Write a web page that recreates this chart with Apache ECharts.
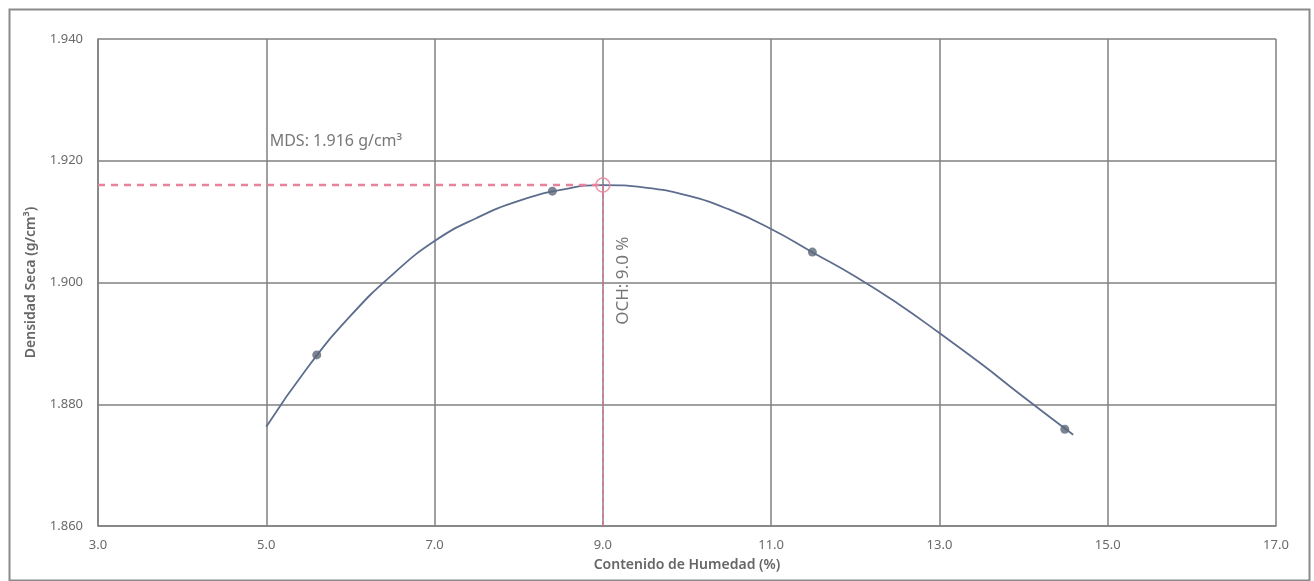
<!DOCTYPE html>
<html>
<head>
<meta charset="utf-8">
<script src="https://cdn.jsdelivr.net/npm/echarts@6/dist/echarts.min.js"></script>
<style>
html,body{margin:0;padding:0;background:#fff;}
#c{width:1314px;height:581px;}
</style>
</head>
<body>
<div id="c"></div>
<script>
// Fitted compaction curve
const curveX = [5.0, 5.5, 6.0, 6.5, 7.0, 7.5, 8.0, 8.5, 9.0, 9.5, 10.0, 10.5, 11.0, 11.5, 12.0, 12.5, 13.0, 13.5, 14.0, 14.59];
const curveY = [1.8763, 1.8862, 1.8945, 1.9013, 1.9068, 1.9106, 1.9134, 1.9152, 1.9160, 1.9156, 1.9143, 1.9120, 1.9088, 1.9049, 1.9010, 1.8966, 1.8917, 1.8866, 1.8812, 1.8750];
// Measured points
const pointX = [5.60, 8.40, 11.49, 14.49];
const pointY = [1.8881, 1.9150, 1.9050, 1.8759];
// Optimum
const optX = 9.0;
const optY = 1.916;
const xMin = 3, xMax = 17, xStep = 2;
const yMin = 1.86, yMax = 1.94, yStep = 0.02;
const mdsText = 'MDS: 1.916 g/cm³';
const ochText = 'OCH: 9.0 %';
const xName = 'Contenido de Humedad (%)';
const yName = 'Densidad Seca (g/cm³)';

const chart = echarts.init(document.getElementById('c'));
const gray = '#808080';
const font = 'Noto Sans';
chart.setOption({
  backgroundColor: '#ffffff',
  animation: false,
  graphic: [{
    type: 'rect', left: 7, top: 7, z: -1,
    shape: {width: 1300, height: 571},
    style: {fill: 'none', stroke: '#8a8a8a', lineWidth: 2}
  }],
  grid: {left: 98, right: 38, top: 39, bottom: 55},
  xAxis: {
    type: 'value', min: xMin, max: xMax, interval: xStep,
    name: xName, nameLocation: 'middle', nameGap: 32,
    nameTextStyle: {fontFamily: font, fontSize: 14, fontWeight: 600, color: '#666666'},
    axisLine: {show: true, lineStyle: {color: gray, width: 1.5}},
    axisTick: {show: false},
    axisLabel: {fontFamily: font, fontSize: 13, color: '#6a6a6a', margin: 13,
      formatter: v => v.toFixed(1)},
    splitLine: {show: true, lineStyle: {color: gray, width: 1.5}}
  },
  yAxis: {
    type: 'value', min: yMin, max: yMax, interval: yStep,
    name: yName, nameLocation: 'middle', nameGap: 60,
    nameTextStyle: {fontFamily: font, fontSize: 14, fontWeight: 600, color: '#666666'},
    axisLine: {show: true, lineStyle: {color: gray, width: 1.5}},
    axisTick: {show: false},
    axisLabel: {fontFamily: font, fontSize: 13, color: '#6a6a6a', margin: 15,
      formatter: v => v.toFixed(3)},
    splitLine: {show: true, lineStyle: {color: gray, width: 1.5}}
  },
  series: [
    {
      type: 'line', smooth: true, showSymbol: false, silent: true,
      data: curveX.map((x, i) => [x, curveY[i]]),
      lineStyle: {color: '#5d6d8e', width: 1.8}, z: 3
    },
    {
      type: 'scatter', symbolSize: 9,
      data: pointX.map((x, i) => [x, pointY[i]]),
      itemStyle: {color: '#5a6678'}, z: 4
    },
    {
      type: 'line', showSymbol: false, silent: true,
      data: [[xMin, optY], [optX, optY]],
      lineStyle: {color: '#e8819a', width: 2.5, type: [7, 6]}, z: 5
    },
    {
      type: 'line', showSymbol: false, silent: true,
      data: [[optX, optY], [optX, yMin]],
      lineStyle: {color: '#e0708a', width: 1.3, type: [5, 3]}, z: 5
    },
    {
      type: 'scatter', symbol: 'circle', symbolSize: 14,
      data: [[optX, optY]],
      itemStyle: {color: 'rgba(255,255,255,0)', borderColor: '#e8819a', borderWidth: 1.5}, z: 6
    },
    {
      type: 'scatter', symbolSize: 0, silent: true,
      data: [[5.04, 1.9231]],
      label: {show: true, position: 'right', distance: 0, formatter: mdsText,
        fontFamily: font, fontSize: 16, color: '#555555'}, z: 7
    },
    {
      type: 'scatter', symbolSize: 0, silent: true,
      data: [[9.24, 1.9003]],
      label: {show: true, position: 'inside', rotate: 90, formatter: ochText,
        fontFamily: font, fontSize: 17, color: '#555555'}, z: 7
    }
  ]
});
</script>
</body>
</html>
